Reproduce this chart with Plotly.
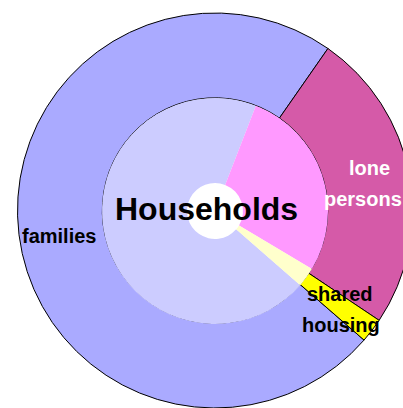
import plotly.graph_objects as go

# ---- data ----
categories = ["families", "lone persons", "shared housing"]
outer_values = [73.3, 24.7, 2.0]      # outer ring shares (%)
inner_values = [69.5, 27.7, 2.8]      # inner ring shares (%)
center_label = "Households"

outer_colors = ["#aaaaff", "#d55aa8", "#ffff00"]
inner_colors = ["#ccccff", "#ff99ff", "#ffffcc"]

W, H = 420, 408
cx, cy = 215, 211
R_out, R_in, R_hole = 198, 113, 28

def dom(r):
    return dict(x=[(cx - r) / W, (cx + r) / W],
                y=[max(0, 1 - (cy + r) / H), 1 - (cy - r) / H])

fig = go.Figure()
fig.add_trace(go.Pie(
    labels=categories, values=outer_values, sort=False,
    direction="clockwise", rotation=131,
    hole=R_in / R_out, domain=dom(R_out),
    marker=dict(colors=outer_colors, line=dict(color="#000000", width=1)),
    textinfo="none", hoverinfo="skip", showlegend=False,
))
fig.add_trace(go.Pie(
    labels=categories, values=inner_values, sort=False,
    direction="clockwise", rotation=131,
    hole=R_hole / R_in, domain=dom(R_in),
    marker=dict(colors=inner_colors, line=dict(width=0)),
    textinfo="none", hoverinfo="skip", showlegend=False,
))

lab_font = "Liberation Sans, Arial, sans-serif"

def px_ann(text, x, y, size, color, family, bold=True):
    fig.add_annotation(
        text=("<b>%s</b>" % text) if bold else text,
        x=x / W, y=1 - y / H, xref="paper", yref="paper",
        xanchor="center", yanchor="middle", showarrow=False,
        font=dict(size=size, color=color, family=family),
    )

px_ann(center_label, 206, 209, 32, "#000000", lab_font)
px_ann(categories[0], 59, 236, 20, "#ffffff" if False else "#000000", lab_font)
px_ann("lone", 369, 168, 20, "#ffffff", lab_font)
px_ann("persons", 363, 199, 20, "#ffffff", lab_font)
px_ann("shared", 340, 294, 20, "#000000", lab_font)
px_ann("housing", 341, 325, 20, "#000000", lab_font)

fig.update_layout(
    width=W, height=H, margin=dict(l=0, r=0, t=0, b=0),
    paper_bgcolor="#ffffff", plot_bgcolor="#ffffff",
)

fig.write_html(
    "out.html",
    config={"displayModeBar": False},
    post_script="document.body.style.margin='0';document.body.style.overflow='hidden';document.documentElement.style.overflow='hidden';",
)
